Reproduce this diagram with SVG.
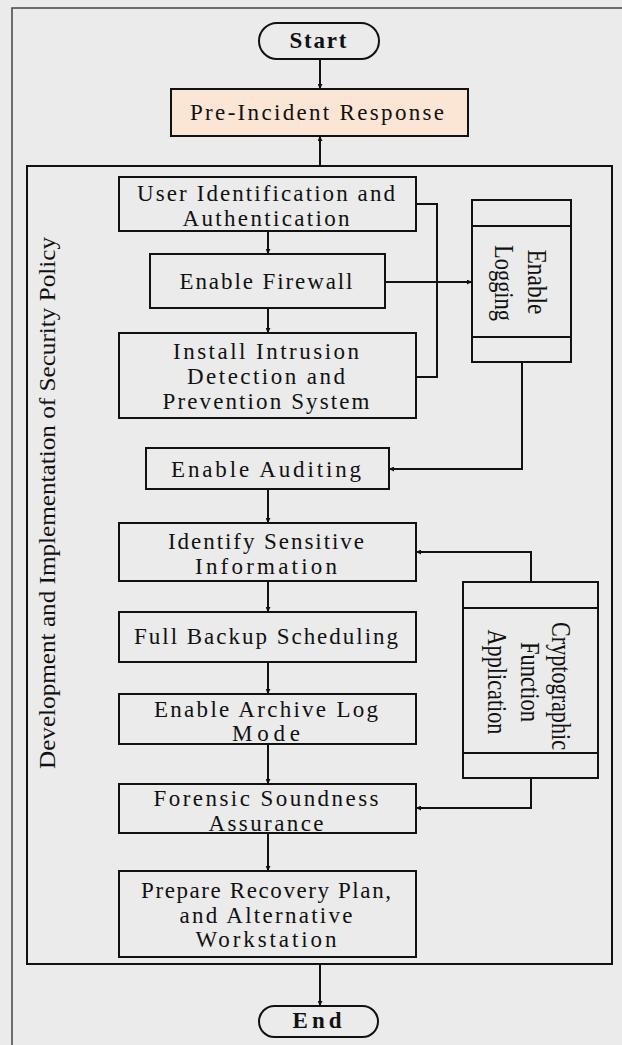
<svg xmlns="http://www.w3.org/2000/svg" width="622" height="1045" viewBox="0 0 622 1045">
<style>
.box{fill:none;stroke:#111;stroke-width:2}
.pill{fill:#ebebeb;stroke:#111;stroke-width:2}
.t{font-family:"Liberation Serif","Times New Roman",serif;font-size:23px;fill:#111;text-anchor:middle}
.b{font-weight:bold}
.v{font-family:"Liberation Serif","Times New Roman",serif;font-size:27px;fill:#111;text-anchor:middle}
.c{fill:none;stroke:#111;stroke-width:2}
</style>
<defs>
<marker id="ah" viewBox="0 0 6 6" refX="6" refY="3" markerWidth="5" markerHeight="5" markerUnits="userSpaceOnUse" orient="auto">
<path d="M0,0 L6,3 L0,6 z" fill="#111"/>
</marker>
</defs>
<rect x="0" y="0" width="622" height="1045" fill="#ebebeb"/>
<g id="outer-frame"><rect x="12" y="8" width="640" height="1060" fill="#ebebeb" stroke="#444" stroke-width="1.5"/></g>
<g id="policy-frame">
<rect x="27" y="166" width="585" height="798" class="box"/>
<text transform="translate(55,503) rotate(-90)" font-family="Liberation Serif, Times New Roman, serif" font-size="24" fill="#111" text-anchor="middle" textLength="532" lengthAdjust="spacingAndGlyphs">Development and Implementation of Security Policy</text>
</g>
<g id="start">
<rect x="259" y="23" width="120" height="36" rx="18" class="pill"/>
<text x="318" y="48" class="t b" textLength="57">Start</text>
</g>
<g id="pre-incident">
<rect x="171" y="89" width="297" height="47" fill="#fbe5d5" stroke="#111" stroke-width="2"/>
<text x="317" y="120" class="t" textLength="254">Pre-Incident Response</text>
</g>
<g id="user-auth">
<rect x="119" y="177" width="297" height="54" class="box"/>
<text x="266" y="201" class="t" textLength="258">User Identification and</text>
<text x="266" y="226" class="t" textLength="167">Authentication</text>
</g>
<g id="firewall">
<rect x="150" y="254" width="235" height="54" class="box"/>
<text x="266" y="289" class="t" textLength="173">Enable Firewall</text>
</g>
<g id="ids">
<rect x="119" y="333" width="297" height="85" class="box"/>
<text x="266" y="359" class="t" textLength="186">Install Intrusion</text>
<text x="266" y="384" class="t" textLength="158">Detection and</text>
<text x="266" y="409" class="t" textLength="207">Prevention System</text>
</g>
<g id="logging">
<rect x="472" y="200" width="99" height="162" class="box"/>
<line x1="472" y1="226" x2="571" y2="226" class="c"/>
<line x1="472" y1="337" x2="571" y2="337" class="c"/>
<text transform="translate(528,282) rotate(90)" class="v" textLength="65" lengthAdjust="spacingAndGlyphs">Enable</text>
<text transform="translate(495,283) rotate(90)" class="v" textLength="76" lengthAdjust="spacingAndGlyphs">Logging</text>
</g>
<g id="auditing">
<rect x="146" y="448" width="243" height="41" class="box"/>
<text x="266" y="477" class="t" textLength="190">Enable Auditing</text>
</g>
<g id="sensitive">
<rect x="119" y="523" width="297" height="58" class="box"/>
<text x="266" y="549" class="t" textLength="196">Identify Sensitive</text>
<text x="266" y="574" class="t" textLength="142">Information</text>
</g>
<g id="backup">
<rect x="119" y="612" width="297" height="50" class="box"/>
<text x="266" y="644" class="t" textLength="264">Full Backup Scheduling</text>
</g>
<g id="archive">
<rect x="119" y="694" width="297" height="50" class="box"/>
<text x="266" y="717" class="t" textLength="224">Enable Archive Log</text>
<text x="266" y="741" class="t" textLength="68">Mode</text>
</g>
<g id="crypto">
<rect x="463" y="582" width="135" height="196" class="box"/>
<line x1="463" y1="608" x2="598" y2="608" class="c"/>
<line x1="463" y1="753" x2="598" y2="753" class="c"/>
<text transform="translate(552,686) rotate(90)" class="v" textLength="128" lengthAdjust="spacingAndGlyphs">Cryptographic</text>
<text transform="translate(521,682) rotate(90)" class="v" textLength="80" lengthAdjust="spacingAndGlyphs">Function</text>
<text transform="translate(488,682) rotate(90)" class="v" textLength="105" lengthAdjust="spacingAndGlyphs">Application</text>
</g>
<g id="forensic">
<rect x="119" y="784" width="297" height="49" class="box"/>
<text x="266" y="806" class="t" textLength="225">Forensic Soundness</text>
<text x="266" y="831" class="t" textLength="115">Assurance</text>
</g>
<g id="recovery">
<rect x="119" y="871" width="297" height="86" class="box"/>
<text x="266" y="898" class="t" textLength="250">Prepare Recovery Plan,</text>
<text x="266" y="923" class="t" textLength="173">and Alternative</text>
<text x="266" y="947" class="t" textLength="141">Workstation</text>
</g>
<g id="end">
<rect x="259" y="1006" width="119" height="31" rx="15.5" class="pill"/>
<text x="317" y="1028" class="t b" textLength="49">End</text>
</g>
<g id="connectors">
<path d="M320,59 V89" class="c" marker-end="url(#ah)"/>
<path d="M320,166 V136" class="c" marker-end="url(#ah)"/>
<path d="M268,231 V254" class="c" marker-end="url(#ah)"/>
<path d="M268,308 V333" class="c" marker-end="url(#ah)"/>
<path d="M416,204 H437 V377 H416" class="c"/>
<path d="M385,282 H472" class="c" marker-end="url(#ah)"/>
<path d="M522,362 V469 H389" class="c" marker-end="url(#ah)"/>
<path d="M268,489 V523" class="c" marker-end="url(#ah)"/>
<path d="M531,582 V552 H416" class="c" marker-end="url(#ah)"/>
<path d="M268,581 V612" class="c" marker-end="url(#ah)"/>
<path d="M268,662 V694" class="c" marker-end="url(#ah)"/>
<path d="M268,744 V784" class="c" marker-end="url(#ah)"/>
<path d="M531,778 V808 H416" class="c" marker-end="url(#ah)"/>
<path d="M268,833 V871" class="c" marker-end="url(#ah)"/>
<path d="M320,964 V1006" class="c" marker-end="url(#ah)"/>
</g>
</svg>
